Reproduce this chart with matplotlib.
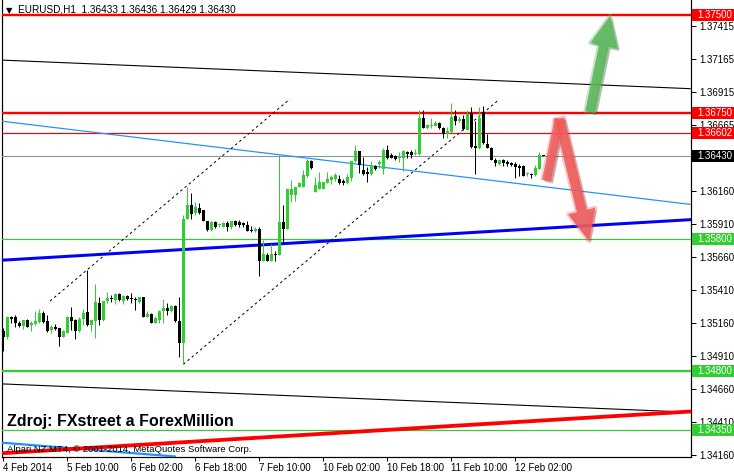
import matplotlib
matplotlib.use("Agg")
import matplotlib.pyplot as plt
import matplotlib.patheffects as pe
from matplotlib.patches import Rectangle, FancyArrowPatch
from matplotlib.transforms import blended_transform_factory
import numpy as np

plt.rcParams['font.family'] = ['Liberation Sans', 'DejaVu Sans']

# EURUSD H1 candles, 4 Feb 18:00 .. 12 Feb 09:00
opens = [1.35104, 1.35058, 1.35209, 1.35209, 1.35164, 1.35139, 1.35184, 1.35144, 1.35154, 1.35169,
         1.35240, 1.35174, 1.35109, 1.35133, 1.35123, 1.35058, 1.35089, 1.35209, 1.35184, 1.35104,
         1.35189, 1.35245, 1.35144, 1.35179, 1.35311, 1.35184, 1.35331, 1.35351, 1.35336, 1.35382,
         1.35331, 1.35367, 1.35346, 1.35346, 1.35321, 1.35356, 1.35209, 1.35230, 1.35164, 1.35184,
         1.35250, 1.35275, 1.35255, 1.35291, 1.35174, 1.35013, 1.35947, 1.36054, 1.35993, 1.36033,
         1.36018, 1.35937, 1.35867, 1.35927, 1.35902, 1.35892, 1.35922, 1.35892, 1.35932, 1.35927,
         1.35922, 1.35907, 1.35867, 1.35857, 1.35877, 1.35634, 1.35679, 1.35634, 1.35685, 1.35679,
         1.35927, 1.35877, 1.36130, 1.36130, 1.36195, 1.36195, 1.36276, 1.36392, 1.36155, 1.36180,
         1.36180, 1.36225, 1.36246, 1.36251, 1.36251, 1.36236, 1.36221, 1.36261, 1.36387, 1.36463,
         1.36321, 1.36306, 1.36294, 1.36354, 1.36369, 1.36329, 1.36475, 1.36435, 1.36425, 1.36410,
         1.36410, 1.36456, 1.36456, 1.36440, 1.36440, 1.36718, 1.36637, 1.36657, 1.36657, 1.36678,
         1.36642, 1.36592, 1.36607, 1.36733, 1.36693, 1.36708, 1.36627, 1.36753, 1.36506, 1.36486,
         1.36763, 1.36521, 1.36490, 1.36400, 1.36369, 1.36395, 1.36384, 1.36374, 1.36369, 1.36354,
         1.36349, 1.36289, 1.36289, 1.36284, 1.36329, 1.36433]
highs = [1.35123, 1.35215, 1.35215, 1.35220, 1.35179, 1.35184, 1.35189, 1.35174, 1.35255, 1.35270,
         1.35255, 1.35220, 1.35144, 1.35154, 1.35123, 1.35109, 1.35215, 1.35286, 1.35189, 1.35205,
         1.35270, 1.35563, 1.35189, 1.35458, 1.35361, 1.35331, 1.35397, 1.35376, 1.35392, 1.35387,
         1.35377, 1.35372, 1.35387, 1.35356, 1.35361, 1.35361, 1.35250, 1.35240, 1.35215, 1.35260,
         1.35346, 1.35311, 1.35296, 1.35296, 1.35356, 1.35980, 1.36190, 1.36145, 1.36079, 1.36074,
         1.36018, 1.35937, 1.35932, 1.35932, 1.35917, 1.35927, 1.35932, 1.35937, 1.35942, 1.35942,
         1.35927, 1.35932, 1.35897, 1.35887, 1.35887, 1.35791, 1.35694, 1.35760, 1.35705, 1.36433,
         1.36054, 1.36180, 1.36246, 1.36195, 1.36231, 1.36321, 1.36402, 1.36397, 1.36271, 1.36306,
         1.36231, 1.36306, 1.36281, 1.36296, 1.36281, 1.36251, 1.36291, 1.36392, 1.36508, 1.36468,
         1.36418, 1.36342, 1.36390, 1.36359, 1.36400, 1.36486, 1.36511, 1.36450, 1.36435, 1.36456,
         1.36471, 1.36465, 1.36471, 1.36481, 1.36778, 1.36778, 1.36668, 1.36713, 1.36693, 1.36683,
         1.36647, 1.36647, 1.36829, 1.36778, 1.36733, 1.36738, 1.36778, 1.36799, 1.36693, 1.36799,
         1.36804, 1.36592, 1.36496, 1.36415, 1.36400, 1.36405, 1.36395, 1.36384, 1.36384, 1.36369,
         1.36359, 1.36304, 1.36299, 1.36359, 1.36460, 1.36436]
lows = [1.34952, 1.35043, 1.35164, 1.35129, 1.35129, 1.35118, 1.35129, 1.35104, 1.35144, 1.35164,
        1.35164, 1.35094, 1.35089, 1.35109, 1.34988, 1.35053, 1.35084, 1.35109, 1.35043, 1.35094,
        1.35144, 1.35139, 1.35104, 1.35048, 1.35149, 1.35179, 1.35311, 1.35321, 1.35306, 1.35326,
        1.35306, 1.35336, 1.35316, 1.35260, 1.35316, 1.35205, 1.35205, 1.35159, 1.35159, 1.35164,
        1.35164, 1.35225, 1.35245, 1.35169, 1.34906, 1.34856, 1.35947, 1.35952, 1.35983, 1.35988,
        1.35932, 1.35862, 1.35862, 1.35882, 1.35887, 1.35887, 1.35862, 1.35877, 1.35897, 1.35892,
        1.35887, 1.35862, 1.35852, 1.35852, 1.35518, 1.35629, 1.35629, 1.35629, 1.35634, 1.35675,
        1.35766, 1.35872, 1.36079, 1.36084, 1.36190, 1.36190, 1.36271, 1.36331, 1.36155, 1.36175,
        1.36175, 1.36221, 1.36215, 1.36236, 1.36215, 1.36206, 1.36215, 1.36236, 1.36382, 1.36296,
        1.36286, 1.36231, 1.36284, 1.36324, 1.36339, 1.36289, 1.36405, 1.36410, 1.36395, 1.36380,
        1.36314, 1.36415, 1.36410, 1.36435, 1.36435, 1.36637, 1.36632, 1.36642, 1.36653, 1.36632,
        1.36562, 1.36566, 1.36602, 1.36663, 1.36688, 1.36627, 1.36622, 1.36490, 1.36293, 1.36481,
        1.36521, 1.36486, 1.36395, 1.36349, 1.36359, 1.36354, 1.36349, 1.36354, 1.36263, 1.36274,
        1.36274, 1.36274, 1.36259, 1.36278, 1.36329, 1.36429]
closes = [1.35056, 1.35209, 1.35194, 1.35159, 1.35139, 1.35184, 1.35133, 1.35164, 1.35179, 1.35240,
          1.35169, 1.35104, 1.35133, 1.35118, 1.35058, 1.35104, 1.35209, 1.35179, 1.35104, 1.35194,
          1.35240, 1.35144, 1.35184, 1.35321, 1.35184, 1.35331, 1.35351, 1.35346, 1.35382, 1.35336,
          1.35367, 1.35341, 1.35341, 1.35336, 1.35356, 1.35209, 1.35230, 1.35164, 1.35199, 1.35255,
          1.35275, 1.35250, 1.35291, 1.35174, 1.35013, 1.35947, 1.36054, 1.35988, 1.36043, 1.35998,
          1.35937, 1.35867, 1.35927, 1.35887, 1.35907, 1.35922, 1.35892, 1.35932, 1.35907, 1.35907,
          1.35902, 1.35862, 1.35862, 1.35877, 1.35634, 1.35685, 1.35634, 1.35685, 1.35679, 1.35927,
          1.35877, 1.36175, 1.36180, 1.36190, 1.36221, 1.36286, 1.36392, 1.36336, 1.36210, 1.36231,
          1.36231, 1.36251, 1.36271, 1.36286, 1.36225, 1.36221, 1.36266, 1.36387, 1.36463, 1.36357,
          1.36291, 1.36291, 1.36354, 1.36329, 1.36380, 1.36475, 1.36415, 1.36415, 1.36405, 1.36420,
          1.36465, 1.36445, 1.36435, 1.36450, 1.36718, 1.36642, 1.36663, 1.36663, 1.36678, 1.36637,
          1.36597, 1.36617, 1.36723, 1.36693, 1.36708, 1.36632, 1.36744, 1.36496, 1.36486, 1.36718,
          1.36526, 1.36490, 1.36400, 1.36374, 1.36395, 1.36374, 1.36369, 1.36359, 1.36344, 1.36339,
          1.36278, 1.36299, 1.36284, 1.36334, 1.36435, 1.36430]

time_ticks = [0, 16, 32, 48, 64, 80, 96, 112, 128]
time_labels = ["4 Feb 2014", "5 Feb 10:00", "6 Feb 02:00", "6 Feb 18:00", "7 Feb 10:00",
               "10 Feb 02:00", "10 Feb 18:00", "11 Feb 10:00", "12 Feb 02:00"]
# the 1.36415 scale label sits under the bid box, so it is left out
price_ticks = [1.37415, 1.37165, 1.36915, 1.36665, 1.36160, 1.35910, 1.35660,
               1.35410, 1.35160, 1.34910, 1.34660, 1.34410, 1.34160]

# horizontal levels
red_levels = [1.37500, 1.36750, 1.36602]
green_levels = [1.35800, 1.34800, 1.34350]
bid = 1.36430

# trend lines: (bar, price) end points
channel_top = [(-0.83, 1.37155), (171.7, 1.36938)]
channel_bottom = [(-0.83, 1.34701), (171.7, 1.34486)]
light_blue = [(-0.83, 1.36693), (171.7, 1.36061)]
light_blue_low = [(-0.83, 1.34256), (42.9, 1.34150)]
dark_blue = [(-0.83, 1.35637), (171.7, 1.35945)]
red_trend = [(-0.83, 1.34174), (171.7, 1.34491)]
dash_upper = [(11.67, 1.35328), (71.67, 1.36860)]
dash_lower = [(45.0, 1.34849), (123.5, 1.36844)]

# forecast arrows
green_arrow = [(146.7, 1.36761), (151.7, 1.37490)]
red_arrow = [(135.8, 1.36240), (139.0, 1.36710), (146.4, 1.35785)]

GREEN = '#32CD32'
PX = 0.72  # one pixel in points at dpi 100

W, H = 734, 475
fig = plt.figure(figsize=(W / 100, H / 100), dpi=100)
ax_l, ax_r, ax_t, ax_b = 2.3, 691.3, 0.0, 457.3
ax = fig.add_axes([ax_l / W, 1 - ax_b / H, (ax_r - ax_l) / W, (ax_b - ax_t) / H])
ax.set_xlim(-0.26, 172.0)
ax.set_ylim(1.34144, 1.37610)

o = np.array(opens); h = np.array(highs); l = np.array(lows); c = np.array(closes)
x = np.arange(len(o))
up = c >= o
cols = np.where(up, GREEN, 'black')

# price per pixel, used for minimum body height and label boxes
ppp = (1.37610 - 1.34144) / (ax_b - ax_t)

ax.vlines(x, l, h, colors=cols, linewidth=PX, zorder=4)
body_lo = np.minimum(o, c)
body_h = np.maximum(np.abs(c - o), ppp)
ax.bar(x, body_h, bottom=body_lo, width=0.75, color=cols, linewidth=0, zorder=5)

# levels
ax.axhline(red_levels[0], color='red', lw=2.4 * PX, zorder=3)
ax.axhline(red_levels[1], color='red', lw=2.4 * PX, zorder=3)
ax.axhline(red_levels[2], color='red', lw=1.2 * PX, zorder=3)
ax.axhline(green_levels[0], color=GREEN, lw=1.2 * PX, zorder=3)
ax.axhline(green_levels[1], color=GREEN, lw=2.3 * PX, zorder=3)
ax.axhline(green_levels[2], color=GREEN, lw=1.2 * PX, zorder=3)
ax.axhline(bid, color='#8c959a', lw=1.1 * PX, zorder=3)

def seg(pts, **kw):
    xs, ys = zip(*pts)
    ax.plot(xs, ys, **kw)

seg(channel_top, color='black', lw=1.1 * PX, zorder=3)
seg(channel_bottom, color='black', lw=1.1 * PX, zorder=3)
seg(light_blue, color='#1E90FF', lw=1.2 * PX, zorder=3)
seg(light_blue_low, color='#1E90FF', lw=2.2 * PX, zorder=3)
seg(dark_blue, color='#0000FF', lw=3 * PX, zorder=3)
seg(red_trend, color='#FF0000', lw=3.8 * PX, zorder=3)
seg(dash_upper, color='black', lw=1 * PX, ls=(0, (2.5, 3)), zorder=3)
seg(dash_lower, color='black', lw=1 * PX, ls=(0, (2.5, 3)), zorder=3)

# arrows, soft edged like the hand drawn ones
soft = lambda col: [pe.Stroke(linewidth=3, foreground=col, alpha=0.35),
                    pe.SimplePatchShadow(offset=(1.5, -1.5), alpha=0.2), pe.Normal()]
arrow_style = 'simple,head_width=2.0,head_length=2.2,tail_width=0.7'
ga = FancyArrowPatch(green_arrow[0], green_arrow[1], arrowstyle=arrow_style,
                     mutation_scale=10, color='#5cb85c', alpha=0.85, lw=0, zorder=8,
                     shrinkA=0, shrinkB=0, path_effects=soft('#5cb85c'))
ax.add_patch(ga)
rx, ry = zip(*red_arrow[:2])
ax.plot(rx, ry, color='#f25d5d', lw=6.5, alpha=0.85, solid_capstyle='butt', zorder=8,
        path_effects=[pe.Stroke(linewidth=9, foreground='#f25d5d', alpha=0.3),
                      pe.SimpleLineShadow(offset=(1.5, -1.5), alpha=0.2), pe.Normal()])
ra = FancyArrowPatch(red_arrow[1], red_arrow[2], arrowstyle=arrow_style,
                     mutation_scale=10, color='#f25d5d', alpha=0.85, lw=0, zorder=8,
                     shrinkA=0, shrinkB=0, path_effects=soft('#f25d5d'))
ax.add_patch(ra)

# axes styling
ax.spines['top'].set_visible(False)
for s in ('left', 'right', 'bottom'):
    ax.spines[s].set_linewidth(1.2 * PX)
ax.yaxis.tick_right()
ax.set_yticks(price_ticks, [f"{v:.5f}" for v in price_ticks])
ax.tick_params(axis='y', direction='out', length=3.5, width=PX, pad=2.5, labelsize=7)
ax.set_xticks(time_ticks, time_labels)
ax.tick_params(axis='x', direction='out', length=3, width=PX, pad=1, labelsize=7)
for lbl in ax.get_xticklabels():
    lbl.set_horizontalalignment('left')

# price boxes on the right
tr = blended_transform_factory(ax.transAxes, ax.transData)
box_x0 = (692.3 - ax_l) / (ax_r - ax_l)
box_w = (W - 692.3) / (ax_r - ax_l)
boxes = [(v, 'red') for v in red_levels] + [(bid, 'black')] + [(v, GREEN) for v in green_levels]
for v, col in boxes:
    ax.add_patch(Rectangle((box_x0, v - 6 * ppp), box_w, 12 * ppp, transform=tr,
                           facecolor=col, edgecolor='none', clip_on=False, zorder=10))
    ax.text((697.3 - ax_l) / (ax_r - ax_l), v, f"{v:.5f}", transform=tr, color='white',
            fontsize=7, va='center', ha='left', clip_on=False, zorder=11)

# texts
fig.text(6 / W, 1 - 13 / H, "\u25BC", fontsize=6, color='black', va='baseline',
         family=['DejaVu Sans'])
fig.text(18 / W, 1 - 13 / H, "EURUSD,H1  1.36433 1.36436 1.36429 1.36430", fontsize=7.2,
         color='black', va='baseline', zorder=1)
fig.text(7.3 / W, 1 - 426 / H, "Zdroj: FXstreet a ForexMillion", fontsize=11.5,
         fontweight='bold', color='black', va='baseline')
fig.text(7.3 / W, 1 - 452.5 / H, "Alpari NZ MT4, \u00A9 2001-2014, MetaQuotes Software Corp.",
         fontsize=6.8, color='black', va='baseline')

fig.savefig("out.png", dpi=100, facecolor='white')
